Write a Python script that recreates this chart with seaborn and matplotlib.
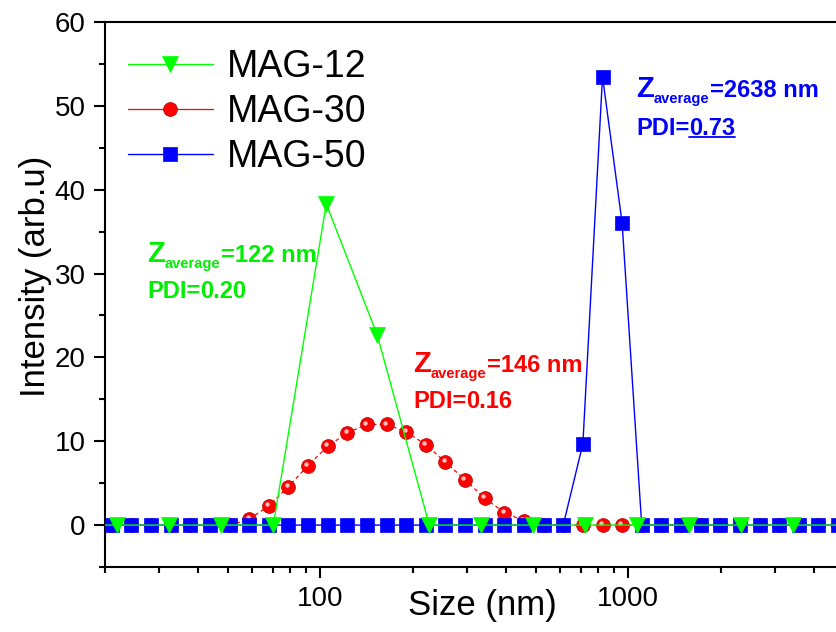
import numpy as np
import pandas as pd
import matplotlib
matplotlib.use('Agg')
import matplotlib.pyplot as plt
import seaborn as sns
from matplotlib.ticker import LogLocator, NullFormatter, FixedLocator, MultipleLocator
from matplotlib.transforms import offset_copy
from matplotlib.lines import Line2D

# ---------------- data ----------------
size_grid = [18.17, 21.04, 24.36, 28.21, 32.67, 37.84, 43.82, 50.75, 58.77, 68.06,
             78.82, 91.28, 105.7, 122.4, 141.8, 164.2, 190.1, 220.2, 255.0, 295.3,
             342.0, 396.1, 458.7, 531.2, 615.1, 712.4, 825.0, 955.4, 1106, 1281,
             1484, 1718, 1990, 2305, 2669, 3091, 3580, 4145, 4801, 5560]
mag30 = [0, 0, 0, 0, 0, 0, 0, 0, 0.7, 2.3,
         4.6, 7.1, 9.4, 11.0, 12.0, 12.0, 11.1, 9.6, 7.5, 5.4,
         3.2, 1.5, 0.5, 0, 0, 0, 0, 0, 0, 0,
         0, 0, 0, 0, 0, 0, 0, 0, 0, 0]
mag50 = [0, 0, 0, 0, 0, 0, 0, 0, 0, 0,
         0, 0, 0, 0, 0, 0, 0, 0, 0, 0,
         0, 0, 0, 0, 0, 9.7, 53.5, 36.0, 0, 0,
         0, 0, 0, 0, 0, 0, 0, 0, 0, 0]
size_grid12 = [14.9, 21.9, 32.3, 47.7, 70.4, 104.6, 153.0, 226.0, 333.0, 491.0,
               726.0, 1070, 1577, 2330, 3430, 5060]
mag12 = [0, 0, 0, 0, 0, 38.3, 22.7, 0, 0, 0, 0, 0, 0, 0, 0, 0]

series_labels = ['MAG-12', 'MAG-30', 'MAG-50']
x_ticks = [100, 1000]
x_tick_labels = ['100', '1000']

GREEN = '#00ff00'
GREEN_TXT = '#00ee00'
RED = '#ff0000'
BLUE = '#0000ff'

# ---------------- style ----------------
sns.set_style('ticks')
plt.rcParams['font.family'] = ['Liberation Sans', 'DejaVu Sans']
for k in ['text.color', 'axes.labelcolor', 'xtick.color', 'ytick.color', 'axes.edgecolor']:
    plt.rcParams[k] = 'black'

fig = plt.figure(figsize=(8.37, 6.32), dpi=100)
ax = fig.add_axes([105 / 837, 65 / 632, 738.5 / 837, 545 / 632])
ax.set_xscale('log')

sns.lineplot(x=size_grid12, y=mag12, ax=ax, color=GREEN, marker='v', markersize=12,
             markeredgecolor=GREEN, markeredgewidth=0.5, linewidth=1.0,
             label=series_labels[0], zorder=4)
sns.lineplot(x=size_grid, y=mag30, ax=ax, color=RED, marker='o', markersize=10,
             markeredgecolor='#c00000', markeredgewidth=0.5, linewidth=0.9,
             linestyle=(0, (3, 2.5)), label=series_labels[1], zorder=2)
sns.lineplot(x=size_grid, y=mag50, ax=ax, color=BLUE, marker='s', markersize=9.5,
             markeredgecolor=BLUE, markeredgewidth=0.5, linewidth=1.0,
             label=series_labels[2], zorder=3)

# glossy highlight on the red spheres
trans = offset_copy(ax.transData, fig=fig, x=-1.2, y=1.4, units='points')
ax.plot(size_grid, mag30, linestyle='none', marker='o', markersize=3.2,
        color='#ffd4d4', markeredgecolor='none', alpha=0.9, transform=trans, zorder=2.5)

ax.set_xlim(20, 5000)
ax.set_ylim(-5, 60)

ax.xaxis.set_major_locator(FixedLocator(x_ticks))
ax.set_xticklabels(x_tick_labels)
ax.xaxis.set_minor_locator(LogLocator(base=10, subs=np.arange(2, 10) * 1.0, numticks=20))
ax.xaxis.set_minor_formatter(NullFormatter())
ax.yaxis.set_major_locator(MultipleLocator(10))
ax.yaxis.set_minor_locator(MultipleLocator(5))

ax.tick_params(which='major', direction='out', length=8, width=1.5, labelsize=20, pad=6)
ax.tick_params(which='minor', direction='out', length=4, width=1.5)
ax.tick_params(which='both', top=False, right=False)
for sp in ax.spines.values():
    sp.set_linewidth(1.5)
    sp.set_color('black')

ax.set_xlabel('Size (nm)', fontsize=25)
ax.set_ylabel('Intensity (arb.u)', fontsize=25)
ax.xaxis.set_label_coords(0.5105, -0.040)
ax.yaxis.set_label_coords(-0.072, 0.533)

leg = ax.legend(loc='upper left', bbox_to_anchor=(0.031, 0.951), frameon=False,
                fontsize=27, handlelength=2.27, handletextpad=0.37, labelspacing=0.25,
                borderpad=0, borderaxespad=0)
for ln in leg.get_lines():
    ln.set_linestyle('-')


def zlabel(x0, y0, y1, val, pdi, pdi_val, color):
    t1 = ax.text(x0, y0, 'Z', transform=ax.transAxes, fontsize=21, fontweight='bold',
                 color=color, ha='left', va='baseline')
    t2 = ax.annotate('average', xy=(1, y0), xycoords=(t1, 'axes fraction'),
                     xytext=(0, -4.8), textcoords='offset points', fontsize=10.5,
                     fontweight='bold', color=color, ha='left', va='baseline')
    ax.annotate(val, xy=(1, y0), xycoords=(t2, 'axes fraction'),
                xytext=(0.3, 0), textcoords='offset points', fontsize=17,
                fontweight='bold', color=color, ha='left', va='baseline')
    p1 = ax.text(x0, y1, pdi, transform=ax.transAxes, fontsize=17, fontweight='bold',
                 color=color, ha='left', va='baseline')
    p2 = ax.annotate(pdi_val, xy=(1, y1), xycoords=(p1, 'axes fraction'),
                     xytext=(0, 0), textcoords='offset points', fontsize=17,
                     fontweight='bold', color=color, ha='left', va='baseline')
    return p2


zlabel(0.0569, 0.5602, 0.493, '=122 nm', 'PDI=', '0.20', GREEN_TXT)
zlabel(0.4171, 0.3583, 0.2917, '=146 nm', 'PDI=', '0.16', RED)
pb = zlabel(0.719, 0.8629, 0.7927, '=2638 nm', 'PDI=', '0.73', BLUE)

# underline under the blue PDI value
fig.canvas.draw()
bb = pb.get_window_extent(renderer=fig.canvas.get_renderer())
yline = bb.y0 + 3.0
inv = fig.transFigure.inverted()
(xa, ya) = inv.transform((bb.x0, yline))
(xb, yb) = inv.transform((bb.x1, yline))
fig.add_artist(Line2D([xa, xb], [ya, yb], transform=fig.transFigure, color=BLUE, linewidth=1.3))

fig.savefig('out.png', dpi=100)
